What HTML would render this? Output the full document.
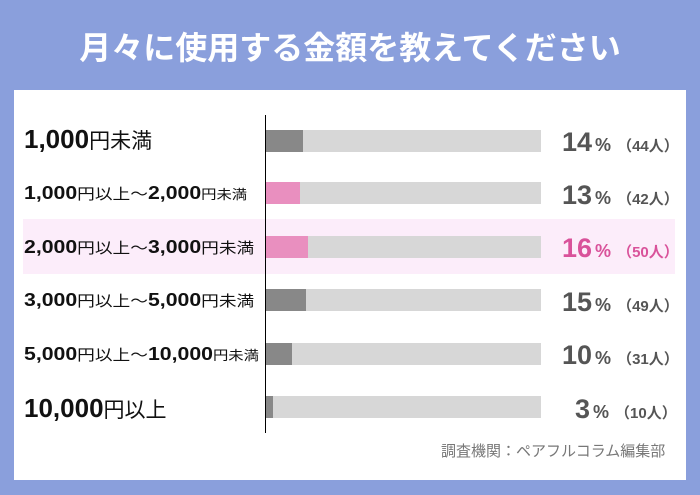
<!DOCTYPE html>
<html><head><meta charset="utf-8"><style>
body{margin:0;width:700px;height:495px;background:#8a9fdc;font-family:"Liberation Sans","Noto Sans CJK JP",sans-serif;position:relative;overflow:hidden}
.t{position:absolute;left:0;width:700px;top:26px;text-align:center;color:#fff;font-size:32px;line-height:40px;font-weight:bold;font-family:"Noto Sans CJK JP",sans-serif}
.p{position:absolute;left:14px;top:90px;width:672px;height:390px;background:#fff}
.hl{position:absolute;left:23px;top:219px;width:652px;height:55px;background:#fcedfa}
.ax{position:absolute;left:265px;top:115px;width:1px;height:318px;background:#000}
.bg{position:absolute;left:266px;width:275px;height:22px;background:#d7d7d7}
.f{position:absolute;left:0;top:0;height:22px;background:#888}
.pk{background:#e98fbf}
.l{position:absolute;left:24px;font-weight:bold;color:#111;white-space:nowrap;font-family:"Liberation Sans","Noto Sans CJK JP",sans-serif;line-height:24px;transform-origin:0 50%}
.m{transform:scaleX(1.18)}
.l small{font-size:15px;font-weight:normal}
.v{position:absolute;left:562px;color:#555;font-weight:bold;font-size:27px;white-space:nowrap;line-height:30px}
.v span{font-size:18px;margin-left:3px}
.v em{font-style:normal;font-size:15px;margin-left:6px}
.src{position:absolute;left:441px;top:440px;font-size:15px;color:#777;font-family:"Noto Sans CJK JP",sans-serif}
</style></head><body>
<div class="t">月々に使用する金額を教えてください</div>
<div class="p"></div>
<div class="hl"></div>
<div class="ax"></div>
<div class="bg" style="top:130px"><div class="f" style="width:37px"></div></div>
<div class="bg" style="top:182px"><div class="f pk" style="width:34px"></div></div>
<div class="bg" style="top:236px"><div class="f pk" style="width:42px"></div></div>
<div class="bg" style="top:289px"><div class="f" style="width:40px"></div></div>
<div class="bg" style="top:343px"><div class="f" style="width:26px"></div></div>
<div class="bg" style="top:396px"><div class="f" style="width:7px"></div></div>
<div class="l" style="top:127px;font-size:26px">1,000<small style="font-size:21px">円未満</small></div>
<div class="l m" style="top:181px;font-size:18px">1,000<small>円以上～</small>2,000<small style="font-size:13px">円未満</small></div>
<div class="l m" style="top:235px;font-size:18px">2,000<small>円以上～</small>3,000<small>円未満</small></div>
<div class="l m" style="top:288px;font-size:18px">3,000<small>円以上～</small>5,000<small>円未満</small></div>
<div class="l m" style="top:342px;font-size:18px">5,000<small>円以上～</small>10,000<small style="font-size:13px">円未満</small></div>
<div class="l" style="top:396px;font-size:26px">10,000<small style="font-size:21px">円以上</small></div>
<div class="v" style="top:127px">14<span>%</span><em>（44人）</em></div>
<div class="v" style="top:180px">13<span>%</span><em>（42人）</em></div>
<div class="v" style="top:233px;color:#d9529a">16<span>%</span><em>（50人）</em></div>
<div class="v" style="top:287px">15<span>%</span><em>（49人）</em></div>
<div class="v" style="top:340px">10<span>%</span><em>（31人）</em></div>
<div class="v" style="top:394px;left:575px">3<span>%</span><em>（10人）</em></div>
<div class="src">調査機関：ペアフルコラム編集部</div>
</body></html>
